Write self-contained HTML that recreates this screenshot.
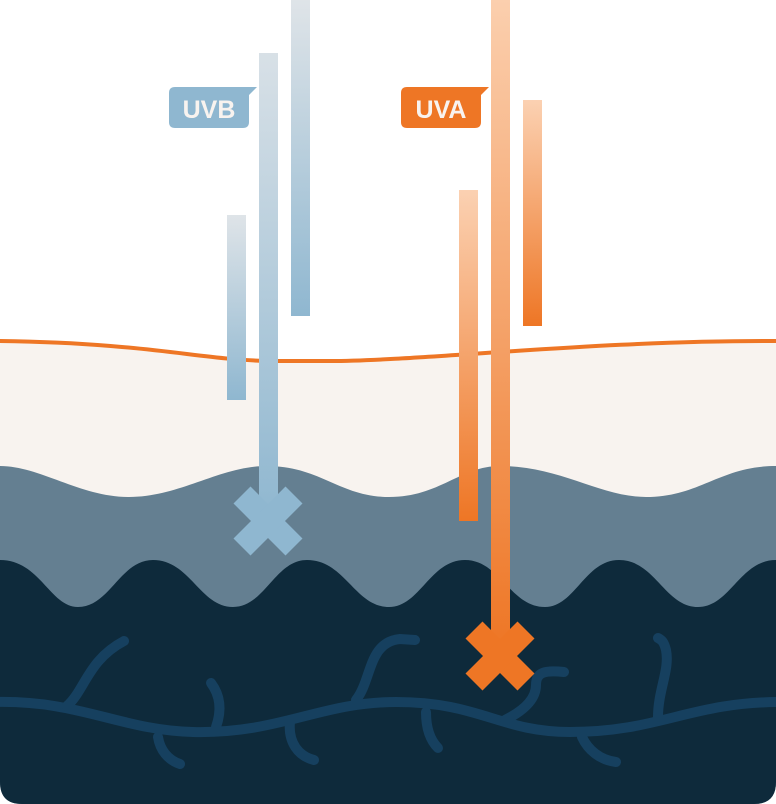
<!DOCTYPE html>
<html><head><meta charset="utf-8"><style>
html,body{margin:0;padding:0;background:#fff}
svg{display:block}
text{font-family:"Liberation Sans",sans-serif;font-weight:bold}
</style></head><body>
<svg width="776" height="804" viewBox="0 0 776 804" xmlns="http://www.w3.org/2000/svg">
<defs>
<linearGradient id="gb" x1="0" y1="0" x2="0" y2="1"><stop offset="0" stop-color="#dfe4e8"/><stop offset="1" stop-color="#8fb7d0"/></linearGradient>
<linearGradient id="gb2" gradientUnits="userSpaceOnUse" x1="0" y1="0" x2="0" y2="520"><stop offset="0" stop-color="#e0e5e9"/><stop offset="1" stop-color="#8fb7d0"/></linearGradient>
<linearGradient id="ga" x1="0" y1="0" x2="0" y2="1"><stop offset="0" stop-color="#fbd1b2"/><stop offset="1" stop-color="#ee7625"/></linearGradient>
<linearGradient id="ga2" gradientUnits="userSpaceOnUse" x1="0" y1="0" x2="0" y2="650"><stop offset="0" stop-color="#fbcfae"/><stop offset="1" stop-color="#ee7625"/></linearGradient>
<clipPath id="cp"><path d="M0 0 H776 V782 Q776 804 754 804 H22 Q0 804 0 782 Z"/></clipPath>
</defs>
<g clip-path="url(#cp)">
<!-- beige epidermis -->
<path d="M0 343 C150 345,200 362,270 363 L330 363 C420 363,600 342,776 343 V804 H0 Z" fill="#f8f3ef"/>
<!-- mid layer -->
<path d="M0 466 C40 466,80 497,129 497 C180 497,220 466,267 466 C320 466,340 497,389 497 C440 497,460 466,500 466 C560 466,600 497,646 497 C700 497,720 466,776 466 V804 H0 Z" fill="#647f91"/>
<!-- dark layer -->
<path d="M0 560 C40 560,50 607,78 607 C110 607,120 560,153 560 C190 560,200 607,233 607 C265 607,275 560,307 560 C345 560,355 607,389 607 C420 607,430 560,465 560 C500 560,510 607,545 607 C575 607,585 560,619 560 C655 560,665 607,698 607 C730 607,740 560,776 560 V804 H0 Z" fill="#0e2a3b"/>
<!-- vines -->
<g fill="none" stroke="#16405f" stroke-width="10" stroke-linecap="round">
<path d="M-5 702 C80 700,120 730,193 732 C280 734,320 702,396 702 C480 702,500 732,570 732 C660 732,690 702,781 702"/>
<path d="M67 706 C85 690,88 660,124 641"/>
<path d="M216 727 C222 710,220 695,211 683"/>
<path d="M158 737 C160 750,168 760,180 764"/>
<path d="M290 722 C288 742,298 756,314 760"/>
<path d="M356 700 C372 680,368 642,400 639 L415 640"/>
<path d="M426 712 C426 728,430 740,438 748"/>
<path d="M505 720 C525 710,536 698,536 685 C536 672,545 670,564 672"/>
<path d="M582 737 C588 750,600 760,616 762"/>
<path d="M658 717 C658 690,670 670,666 650 C664 642,662 640,658 638"/>
</g>
<!-- orange surface line -->
<path d="M0 341 C150 343,200 360,270 361 L330 361 C420 361,600 340,776 341" fill="none" stroke="#ee7625" stroke-width="4"/>
</g>
<!-- UVB bars -->
<rect x="227" y="215" width="19" height="185" fill="url(#gb)"/>
<rect x="259" y="53" width="19" height="455" fill="url(#gb2)"/>
<rect x="291" y="0" width="19" height="316" fill="url(#gb)"/>
<g stroke="#8fb7d0" stroke-width="24"><line x1="242" y1="495" x2="294" y2="547"/><line x1="294" y1="495" x2="242" y2="547"/></g>
<!-- UVA bars -->
<rect x="459" y="190" width="19" height="331" fill="url(#ga)"/>
<rect x="491" y="0" width="19" height="645" fill="url(#ga2)"/>
<rect x="523" y="100" width="19" height="226" fill="url(#ga)"/>
<g stroke="#ee7625" stroke-width="24"><line x1="474" y1="630" x2="526" y2="682"/><line x1="526" y1="630" x2="474" y2="682"/></g>
<!-- labels -->
<path d="M175 87 H257 L249 95 V122 Q249 128 243 128 H175 Q169 128 169 122 V93 Q169 87 175 87 Z" fill="#8fb7d0"/>
<text x="209" y="118" font-size="25" fill="#f8f3ef" text-anchor="middle">UVB</text>
<path d="M407 87 H489 L481 95 V122 Q481 128 475 128 H407 Q401 128 401 122 V93 Q401 87 407 87 Z" fill="#ee7625"/>
<text x="441" y="118" font-size="25" fill="#f8f3ef" text-anchor="middle">UVA</text>
</svg>
</body></html>
